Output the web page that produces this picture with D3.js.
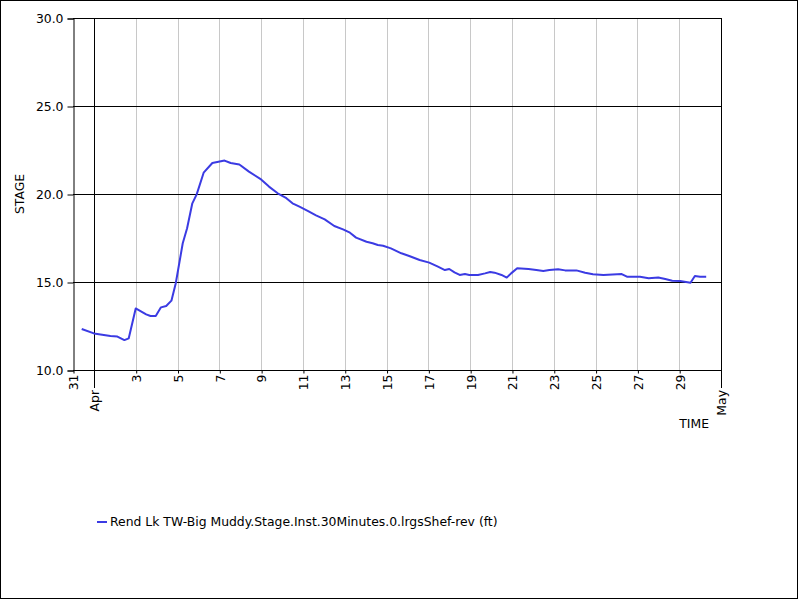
<!DOCTYPE html>
<html>
<head>
<meta charset="utf-8">
<script src="https://cdn.jsdelivr.net/npm/d3@7"></script>
<style>
  body { margin: 0; background: #fff; }
  text { font-family: "DejaVu Sans", sans-serif; }
</style>
</head>
<body>
<div id="chart"></div>
<script>
// readings, local time
const times = [
  "03-31 10", "04-01 00", "04-01 19", "04-02 03", "04-02 11", "04-02 16", "04-03 00", "04-03 12",
  "04-03 17", "04-03 23", "04-04 05", "04-04 11", "04-04 17", "04-04 22", "04-05 06", "04-05 11",
  "04-05 17", "04-05 22", "04-06 06", "04-06 16", "04-07 06", "04-07 13", "04-07 23", "04-08 10",
  "04-08 23", "04-09 09", "04-09 19", "04-10 05", "04-10 12", "04-10 20", "04-11 06", "04-11 15",
  "04-12 01", "04-12 12", "04-12 22", "04-13 06", "04-13 13", "04-14 01", "04-14 08", "04-14 14",
  "04-14 20", "04-15 05", "04-15 17", "04-16 02", "04-16 14", "04-17 01", "04-17 11", "04-17 19",
  "04-18 00", "04-18 06", "04-18 12", "04-18 18", "04-18 23", "04-19 09", "04-19 17", "04-19 23",
  "04-20 04", "04-20 12", "04-20 18", "04-20 23", "04-21 06", "04-21 19", "04-22 04", "04-22 12",
  "04-22 19", "04-23 05", "04-23 13", "04-24 02", "04-24 12", "04-24 21", "04-25 09", "04-26 06",
  "04-26 12", "04-27 03", "04-27 13", "04-28 00", "04-28 08", "04-28 16", "04-29 01", "04-29 13",
  "04-29 18", "04-30 00", "04-30 07"
];
const stage = [
  12.33, 12.08, 11.93, 11.90, 11.70, 11.80, 13.50, 13.16,
  13.07, 13.07, 13.56, 13.64, 13.94, 14.93, 17.20, 18.05,
  19.47, 19.98, 21.21, 21.76, 21.90, 21.76, 21.68, 21.27,
  20.86, 20.42, 20.04, 19.76, 19.47, 19.28, 19.03, 18.79,
  18.56, 18.18, 17.99, 17.80, 17.52, 17.29, 17.20, 17.10,
  17.06, 16.91, 16.63, 16.48, 16.25, 16.10, 15.87, 15.68,
  15.74, 15.55, 15.40, 15.45, 15.40, 15.40, 15.49, 15.57,
  15.53, 15.40, 15.25, 15.49, 15.78, 15.74, 15.68, 15.63,
  15.68, 15.72, 15.66, 15.66, 15.53, 15.44, 15.40, 15.45,
  15.30, 15.30, 15.21, 15.26, 15.17, 15.07, 15.06, 14.96,
  15.34, 15.30, 15.30
];
const yTicks = [10, 15, 20, 25, 30];
const dayTicks = ["03-31", "04-03", "04-05", "04-07", "04-09", "04-11", "04-13", "04-15",
  "04-17", "04-19", "04-21", "04-23", "04-25", "04-27", "04-29"];
const monthTicks = ["04-01", "05-01"];
const seriesName = "Rend Lk TW-Big Muddy.Stage.Inst.30Minutes.0.lrgsShef-rev (ft)";

const year = 2019;
const parseTime = d3.timeParse("%Y-%m-%d %H");
const parseDay = d3.timeParse("%Y-%m-%d");
const data = times.map((t, i) => ({ t: parseTime(year + "-" + t), v: stage[i] }));

const width = 800, height = 600;
const plot = { left: 73, right: 721, top: 18, bottom: 370 };
const lineColor = "#3b3be3";

const svg = d3.select("#chart").append("svg")
  .attr("width", width)
  .attr("height", height);

svg.append("rect")
  .attr("x", 0.5).attr("y", 0.5)
  .attr("width", 797).attr("height", 598)
  .attr("fill", "#fff")
  .attr("stroke", "#000");

const x = d3.scaleTime()
  .domain([parseDay(year + "-03-31"), parseDay(year + "-05-01")])
  .range([plot.left, plot.right]);

const y = d3.scaleLinear()
  .domain([10, 30])
  .range([plot.bottom, plot.top]);

// light day grid
svg.append("g")
  .selectAll("line")
  .data(dayTicks.slice(1))
  .join("line")
  .attr("x1", d => Math.round(x(parseDay(year + "-" + d))) + 0.5)
  .attr("x2", d => Math.round(x(parseDay(year + "-" + d))) + 0.5)
  .attr("y1", plot.top)
  .attr("y2", plot.bottom)
  .attr("stroke", "#c8c8c8");

// value grid
svg.append("g")
  .selectAll("line")
  .data(yTicks)
  .join("line")
  .attr("x1", plot.left)
  .attr("x2", plot.right)
  .attr("y1", d => Math.round(y(d)) + 0.5)
  .attr("y2", d => Math.round(y(d)) + 0.5)
  .attr("stroke", "#000");

// month line inside the plot
svg.append("line")
  .attr("x1", Math.round(x(parseDay(year + "-04-01"))) + 0.5)
  .attr("x2", Math.round(x(parseDay(year + "-04-01"))) + 0.5)
  .attr("y1", plot.top)
  .attr("y2", plot.bottom)
  .attr("stroke", "#000");

// y axis
const yAxis = svg.append("g")
  .attr("transform", `translate(${plot.left + 0.5},0.5)`)
  .call(d3.axisLeft(y).tickValues(yTicks).tickFormat(d3.format(".1f")).tickSize(6).tickPadding(4));
yAxis.selectAll("text").attr("font-size", 12.4).attr("font-family", "DejaVu Sans").attr("fill", "#000");
yAxis.selectAll("line, path").attr("stroke", "#000");

// right border of plot
svg.append("line")
  .attr("x1", plot.right + 0.5).attr("x2", plot.right + 0.5)
  .attr("y1", plot.top).attr("y2", plot.bottom + 18)
  .attr("stroke", "#000");

// x axis, days
const xAxis = svg.append("g")
  .attr("transform", `translate(0.5,${plot.bottom + 0.5})`)
  .call(d3.axisBottom(x)
    .tickValues(dayTicks.map(d => parseDay(year + "-" + d)))
    .tickFormat(d3.timeFormat("%-d"))
    .tickSize(3)
    .tickSizeOuter(0));
xAxis.select(".domain").attr("d", `M${plot.left},0H${plot.right}`);
xAxis.selectAll("line, path").attr("stroke", "#000");
xAxis.selectAll("text")
  .attr("font-size", 12.4)
  .attr("font-family", "DejaVu Sans")
  .attr("fill", "#000")
  .attr("transform", "rotate(-90)")
  .attr("text-anchor", "end")
  .attr("x", -4)
  .attr("y", 0)
  .attr("dy", "0.35em");

// x axis, months
const months = svg.append("g")
  .selectAll("g")
  .data(monthTicks)
  .join("g")
  .attr("transform", d => `translate(${Math.round(x(parseDay(year + "-" + d))) + 0.5},${plot.bottom})`);
months.append("line")
  .attr("y1", 0).attr("y2", 18)
  .attr("stroke", "#000");
months.append("text")
  .attr("transform", "rotate(-90)")
  .attr("x", -20)
  .attr("dy", "0.35em")
  .attr("text-anchor", "end")
  .attr("font-size", 12.4)
  .text(d => d3.timeFormat("%b")(parseDay(year + "-" + d)));

// axis titles
svg.append("text")
  .attr("transform", "translate(24,194) rotate(-90)")
  .attr("text-anchor", "middle")
  .attr("font-size", 12.4)
  .text("STAGE");

svg.append("text")
  .attr("x", 709)
  .attr("y", 428)
  .attr("text-anchor", "end")
  .attr("font-size", 12.4)
  .text("TIME");

// series
const line = d3.line()
  .x(d => x(d.t))
  .y(d => y(d.v));

svg.append("path")
  .datum(data)
  .attr("fill", "none")
  .attr("stroke", lineColor)
  .attr("stroke-width", 2)
  .attr("stroke-linejoin", "round")
  .attr("d", line);

// legend
const legend = svg.append("g").attr("transform", "translate(97,522)");
legend.append("line")
  .attr("x1", 0).attr("x2", 10)
  .attr("stroke", lineColor)
  .attr("stroke-width", 2);
legend.append("text")
  .attr("x", 13)
  .attr("dy", "0.35em")
  .attr("font-size", 12.4)
  .text(seriesName);
</script>
</body>
</html>
